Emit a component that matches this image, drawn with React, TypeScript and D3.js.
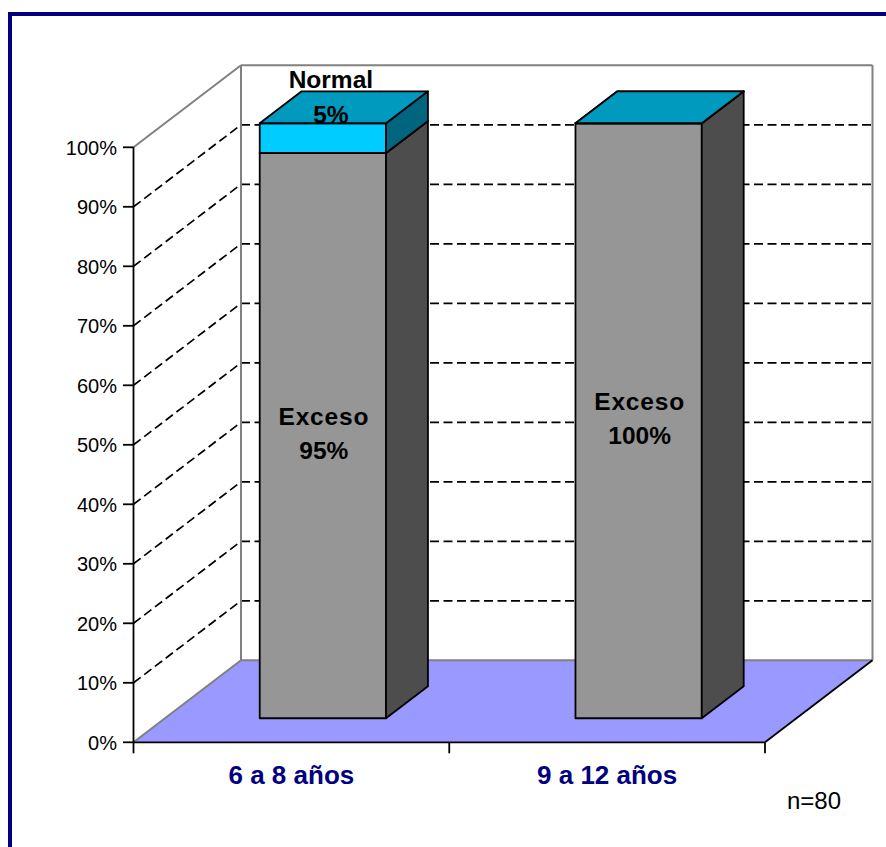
import React from "react";
import * as d3 from "d3";

// Age groups on the category axis
const categories = ["6 a 8 años", "9 a 12 años"];
// Stacked series (percent of children in each group)
const seriesNames = ["Exceso", "Normal"];
const excesoValues = [95, 100];
const normalValues = [5, 0];
const yTicks = [0, 10, 20, 30, 40, 50, 60, 70, 80, 90, 100];
const sampleNote = "n=80";

const W = 886;
const H = 847;

// Front plane of the 3D plot box
const x0 = 133.5;
const x1 = 765;
const yBottom = 742.3;
const yTop = 147.3;
// Full depth offset of the box (front -> back wall)
const DX = 107.5;
const DY = -82;
// Bars sit between these depth fractions
const barD0 = 0.293;
const barD1 = 0.683;

const FONT = "'Liberation Sans', Arial, Helvetica, sans-serif";

const colors = {
  Exceso: { front: "#969696", side: "#4d4d4d", top: "#8a8a8a" },
  Normal: { front: "#00ccff", side: "#006680", top: "#009abf" },
};

const proj = (x: number, y: number, d: number): [number, number] => [x + d * DX, y + d * DY];
const pts = (arr: [number, number][]) => arr.map((p) => p.join(",")).join(" ");

export default function App() {
  const y = d3.scaleLinear().domain([0, 100]).range([yBottom, yTop]);
  const xBand = d3.scaleBand<string>().domain(categories).range([x0, x1]).padding(0);
  const barW = xBand.bandwidth() * 0.4;

  const stacked = d3.stack<any>().keys(seriesNames)(
    categories.map((c, i) => ({ cat: c, Exceso: excesoValues[i], Normal: normalValues[i] }))
  );

  const dash = "9 4.5";

  // Box corners
  const backTL = proj(x0, yTop, 1);
  const backBL = proj(x0, yBottom, 1);
  const backTR = proj(x1, yTop, 1);
  const backBR = proj(x1, yBottom, 1);

  const bars: React.ReactNode[] = [];
  const labels: React.ReactNode[] = [];

  categories.forEach((cat, ci) => {
    const cx = (xBand(cat) as number) + xBand.bandwidth() / 2;
    const xl = cx - barW / 2;
    const xr = cx + barW / 2;
    stacked.forEach((layer) => {
      const key = layer.key as "Exceso" | "Normal";
      const [v0, v1] = layer[ci];
      const c = colors[key];
      const yb = y(v0);
      const yt = y(v1);
      const fBL = proj(xl, yb, barD0);
      const fBR = proj(xr, yb, barD0);
      const fTL = proj(xl, yt, barD0);
      const fTR = proj(xr, yt, barD0);
      const bBR = proj(xr, yb, barD1);
      const bTR = proj(xr, yt, barD1);
      const bTL = proj(xl, yt, barD1);
      bars.push(
        <g key={`${cat}-${key}`} stroke="#000" strokeWidth={1.8} strokeLinejoin="round">
          <polygon points={pts([fBL, fBR, fTR, fTL])} fill={c.front} />
          <polygon points={pts([fBR, bBR, bTR, fTR])} fill={c.side} />
          <polygon points={pts([fTL, fTR, bTR, bTL])} fill={c.top} />
        </g>
      );

      const value = v1 - v0;
      if (value > 0) {
        const [lx, ly] = proj(cx, y((v0 + v1) / 2), barD0);
        const small = value < 10;
        const tx = small ? lx + 8 : lx + 1;
        const l1 = small ? ly - 50 : ly - 11;
        const l2 = small ? ly - 15 : ly + 23;
        labels.push(
          <g key={`lab-${cat}-${key}`} fontFamily={FONT} fontWeight="bold" fontSize={24.5} textAnchor="middle" fill="#000">
            <text x={tx} y={l1} letterSpacing={key === "Exceso" ? 0.8 : 0}>{key}</text>
            <text x={tx} y={l2}>{`${value}%`}</text>
          </g>
        );
      }
    });
  });

  return (
    <div style={{ position: "absolute", left: 0, top: 0 }}>
      <svg width={W} height={H} style={{ display: "block", background: "#fff" }}>
        {/* outer frame */}
        <rect x={10} y={14} width={W + 20} height={H + 20} fill="#fff" stroke="#000080" strokeWidth={4} />

        {/* left side wall */}
        <polygon points={pts([[x0, yTop], backTL, backBL, [x0, yBottom]])} fill="#fff" />
        {/* back wall */}
        <polygon points={pts([backTL, backTR, backBR, backBL])} fill="#fff" />
        {/* floor */}
        <polygon points={pts([[x0, yBottom], [x1, yBottom], backBR, backBL])} fill="#9999ff" />

        {/* gridlines: side-wall diagonals and back-wall horizontals */}
        {yTicks
          .filter((t) => t > 0 && t < 100)
          .map((t) => {
            const a = proj(x0, y(t), 0);
            const b = proj(x0, y(t), 1);
            const c = proj(x1, y(t), 1);
            return (
              <g key={`grid-${t}`} stroke="#000" strokeWidth={1.7} strokeDasharray={dash} fill="none">
                <line x1={a[0]} y1={a[1]} x2={b[0]} y2={b[1]} />
                <line x1={b[0]} y1={b[1]} x2={c[0]} y2={c[1]} />
              </g>
            );
          })}

        {/* wall edges */}
        <g stroke="#808080" strokeWidth={2} fill="none">
          <line x1={x0} y1={yTop} x2={backTL[0]} y2={backTL[1]} />
          <line x1={backTL[0]} y1={backTL[1]} x2={backTR[0]} y2={backTR[1]} />
          <line x1={backTR[0]} y1={backTR[1]} x2={backBR[0]} y2={backBR[1]} />
          <line x1={backTL[0]} y1={backTL[1]} x2={backBL[0]} y2={backBL[1]} />
          <line x1={backBL[0]} y1={backBL[1]} x2={backBR[0]} y2={backBR[1]} />
          <line x1={x0} y1={yBottom} x2={backBL[0]} y2={backBL[1]} />
        </g>
        <line x1={x1} y1={yBottom} x2={backBR[0]} y2={backBR[1]} stroke="#000" strokeWidth={1.8} />

        {bars}

        {/* axes */}
        <g stroke="#000" strokeWidth={1.8}>
          <line x1={x0} y1={yTop} x2={x0} y2={yBottom} />
          <line x1={x0} y1={yBottom} x2={x1} y2={yBottom} />
          {yTicks.map((t) => (
            <line key={`yt-${t}`} x1={x0 - 10.5} y1={y(t)} x2={x0} y2={y(t)} />
          ))}
          {[x0, ...categories.map((c) => (xBand(c) as number) + xBand.bandwidth())].map((xv, i) => (
            <line key={`xt-${i}`} x1={xv} y1={yBottom} x2={xv} y2={yBottom + 11} />
          ))}
        </g>

        {/* y tick labels */}
        <g fontFamily={FONT} fontSize={20} textAnchor="end" fill="#000">
          {yTicks.map((t) => (
            <text key={`yl-${t}`} x={117} y={y(t) + 7.5}>{`${t}%`}</text>
          ))}
        </g>

        {/* category labels */}
        <g fontFamily={FONT} fontSize={26} fontWeight="bold" textAnchor="middle" fill="#000080">
          {categories.map((c) => (
            <text key={`cl-${c}`} x={(xBand(c) as number) + xBand.bandwidth() / 2} y={784}>{c}</text>
          ))}
        </g>

        {labels}

        <text x={787} y={809} fontFamily={FONT} fontSize={24} fill="#000">{sampleNote}</text>
      </svg>
    </div>
  );
}
